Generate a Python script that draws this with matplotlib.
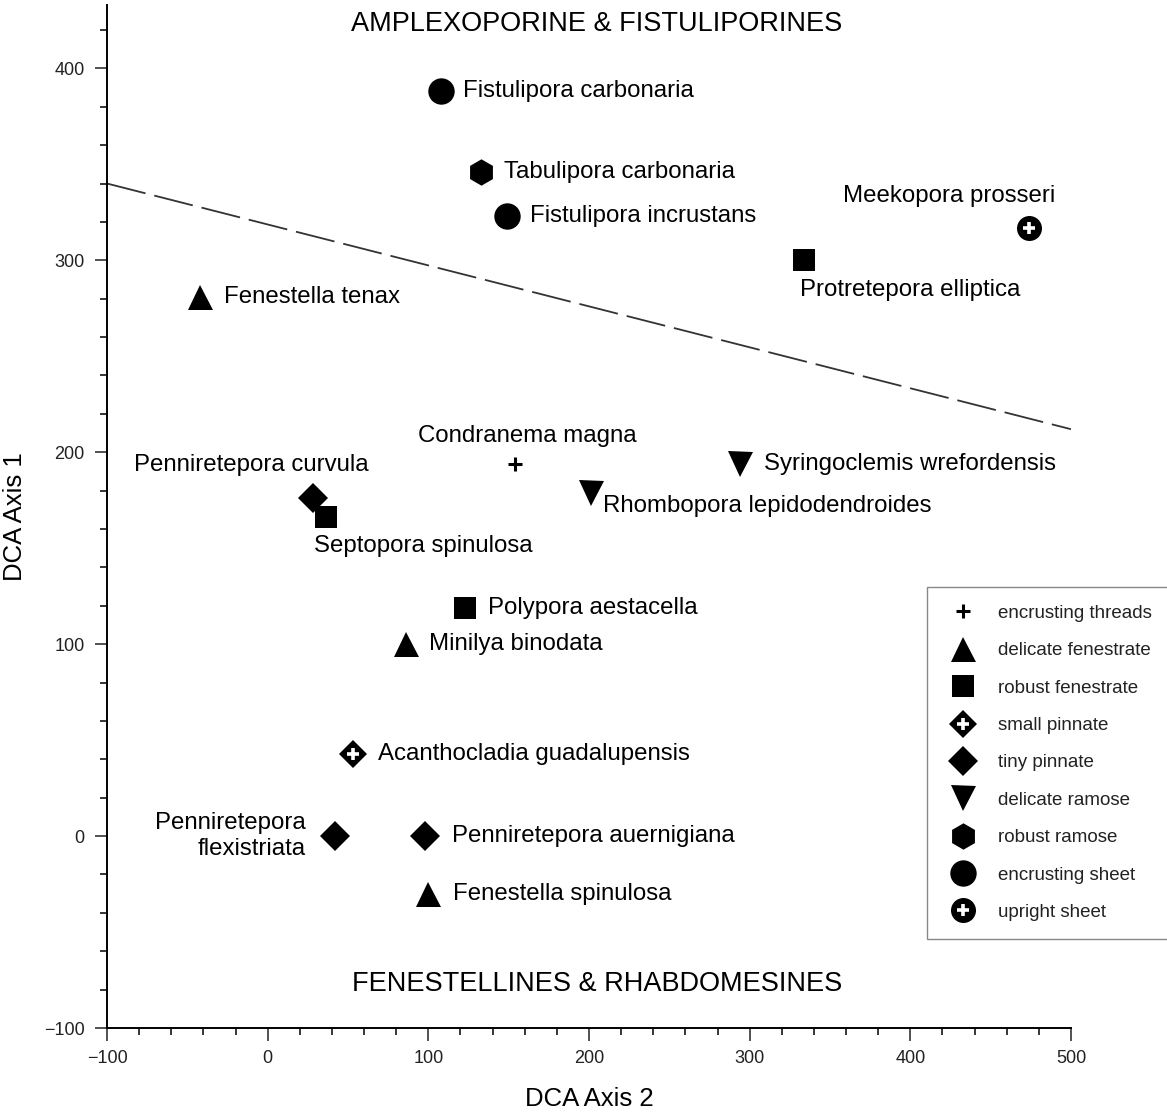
import numpy as np
import matplotlib
matplotlib.use('Agg')
import matplotlib.pyplot as plt
from matplotlib.legend_handler import HandlerTuple
from matplotlib.lines import Line2D

plt.rcParams['font.family'] = ['Liberation Sans', 'DejaVu Sans']

# taxa, DCA scores and growth form
names = ['Fistulipora carbonaria', 'Tabulipora carbonaria', 'Fistulipora incrustans',
         'Meekopora prosseri', 'Protretepora elliptica', 'Fenestella tenax',
         'Condranema magna', 'Syringoclemis wrefordensis', 'Rhombopora lepidodendroides',
         'Penniretepora curvula', 'Septopora spinulosa', 'Polypora aestacella',
         'Minilya binodata', 'Acanthocladia guadalupensis', 'Penniretepora\nflexistriata',
         'Penniretepora auernigiana', 'Fenestella spinulosa']
axis2 = [108, 133, 149, 474, 334, -42, 154, 294, 201, 28, 36, 123, 86, 53, 42, 98, 100]
axis1 = [388, 346, 323, 317, 300, 281, 194, 194, 179, 176, 166, 119, 100, 43, 0, 0, -30]
forms = ['encrusting sheet', 'robust ramose', 'encrusting sheet', 'upright sheet',
         'robust fenestrate', 'delicate fenestrate', 'encrusting threads', 'delicate ramose',
         'delicate ramose', 'tiny pinnate', 'robust fenestrate', 'robust fenestrate',
         'delicate fenestrate', 'small pinnate', 'tiny pinnate', 'tiny pinnate',
         'delicate fenestrate']

# label offsets (pixels) and alignment
offsets = [(22, 0, 'left'), (23, 0, 'left'), (23, 0, 'left'), (26, 32, 'right'),
           (-4, -30, 'left'), (24, 0, 'left'), (12, 28, 'center'), (24, 0, 'left'),
           (12, -13, 'left'), (56, 33, 'right'), (-12, -29, 'left'), (23, 0, 'left'),
           (23, 0, 'left'), (25, 0, 'left'), (-29, 0, 'right'), (27, 0, 'left'),
           (25, 0, 'left')]

legend_order = ['encrusting threads', 'delicate fenestrate', 'robust fenestrate',
                'small pinnate', 'tiny pinnate', 'delicate ramose', 'robust ramose',
                'encrusting sheet', 'upright sheet']

# boundary line between the two groups
line_x = [-100, 500]
line_y = [340, 212]

styles = {
    'encrusting threads': dict(marker='+', ms=10, mew=2.2, plus=False),
    'delicate fenestrate': dict(marker='^', ms=18, mew=0, plus=False),
    'robust fenestrate': dict(marker='s', ms=16, mew=0, plus=False),
    'small pinnate': dict(marker='D', ms=14.5, mew=0, plus=True),
    'tiny pinnate': dict(marker='D', ms=15, mew=0, plus=False),
    'delicate ramose': dict(marker='v', ms=18, mew=0, plus=False),
    'robust ramose': dict(marker='h', ms=19, mew=0, plus=False),
    'encrusting sheet': dict(marker='o', ms=19, mew=0, plus=False),
    'upright sheet': dict(marker='o', ms=18, mew=0, plus=True),
}

fig = plt.figure(figsize=(11.67, 11.18), dpi=100)
ax = fig.add_axes([0.0917, 0.0805, 0.826, 0.915])

ax.plot(line_x, line_y, color='#333333', lw=1.3, dashes=(22, 5))

for x, y, f in zip(axis2, axis1, forms):
    s = styles[f]
    ax.plot(x, y, ls='none', marker=s['marker'], ms=s['ms'], color='black',
            mew=s['mew'], mec='black')
    if s['plus']:
        ax.plot(x, y, ls='none', marker='+', ms=8, mew=2.6, color='white')

for name, x, y, (dx, dy, ha) in zip(names, axis2, axis1, offsets):
    ax.annotate(name, (x, y), xytext=(dx, dy), textcoords='offset pixels',
                ha=ha, va='center', fontsize=17.3, multialignment='right')

ax.text(205, 423, 'AMPLEXOPORINE & FISTULIPORINES', ha='center', va='center', fontsize=19.5)
ax.text(205, -77, 'FENESTELLINES & RHABDOMESINES', ha='center', va='center', fontsize=19.5)

ax.set_xlim(-100, 500)
ax.set_ylim(-100, 433)
ax.spines['top'].set_visible(False)
ax.spines['right'].set_visible(False)
ax.spines['bottom'].set_bounds(-100, 500)
for sp in ['left', 'bottom']:
    ax.spines[sp].set_linewidth(1.4)

ax.set_xticks(np.arange(-100, 501, 100))
ax.set_xticks(np.arange(-100, 501, 20), minor=True)
ax.set_yticks(np.arange(-100, 401, 100))
ax.set_yticks(np.arange(-100, 421, 20), minor=True)
ax.tick_params(which='major', length=9, width=1.1, labelsize=13, colors='#222222', pad=7)
ax.tick_params(which='minor', length=5, width=1.1)
ax.set_xticklabels(['\u2212100', '0', '100', '200', '300', '400', '500'])
ax.set_yticklabels(['\u2212100', '0', '100', '200', '300', '400'])

ax.set_xlabel('DCA Axis 2', fontsize=18.5, labelpad=14)
ax.set_ylabel('DCA Axis 1', fontsize=18.5, labelpad=12)

handles = []
for f in legend_order:
    s = styles[f]
    h = Line2D([], [], ls='none', marker=s['marker'], ms=s['ms'], color='black',
               mew=s['mew'])
    if s['plus']:
        p = Line2D([], [], ls='none', marker='+', ms=8, mew=2.6, color='white')
        h = (h, p)
    handles.append(h)

leg = fig.legend(handles, legend_order, loc='upper left',
                 bbox_to_anchor=(927 / 1167, 1 - 587 / 1118), fontsize=13.5,
                 frameon=True, fancybox=False, edgecolor='#888888', framealpha=1,
                 labelspacing=1.08, handlelength=1.9, handletextpad=0.95,
                 borderpad=0.95, borderaxespad=0,
                 handler_map={tuple: HandlerTuple(ndivide=1, pad=0)})
leg.get_frame().set_linewidth(1.0)
for t in leg.get_texts():
    t.set_color('#222222')

fig.savefig('out.png', dpi=100)
